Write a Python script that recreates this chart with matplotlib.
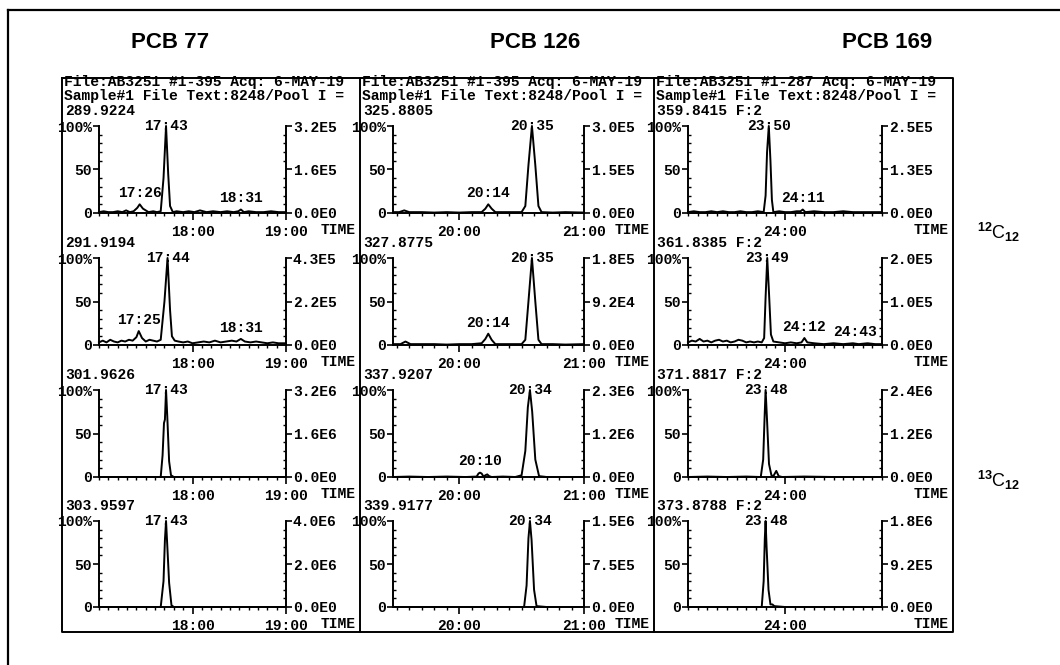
import matplotlib.pyplot as plt
from matplotlib.patches import Rectangle
from matplotlib.ticker import MultipleLocator

plt.rcParams['font.family'] = ['Liberation Mono', 'DejaVu Sans Mono']
plt.rcParams['font.weight'] = 'bold'
plt.rcParams['font.size'] = 10.5
plt.rcParams['mathtext.fontset'] = 'custom'
plt.rcParams['mathtext.rm'] = 'Liberation Sans'

W, H = 1060, 665

# ================================
# data
# ================================
compounds = ["PCB 77", "PCB 126", "PCB 169"]
file_lines = ["File:AB3251 #1-395 Acq: 6-MAY-19",
              "File:AB3251 #1-395 Acq: 6-MAY-19",
              "File:AB3251 #1-287 Acq: 6-MAY-19"]
sample_line = "Sample#1 File Text:8248/Pool I ="
mass_labels = [["289.9224", "291.9194", "301.9626", "303.9597"],
               ["325.8805", "327.8775", "337.9207", "339.9177"],
               ["359.8415 F:2", "361.8385 F:2", "371.8817 F:2", "373.8788 F:2"]]
full_scale = [["3.2E5", "4.3E5", "3.2E6", "4.0E6"],
              ["3.0E5", "1.8E5", "2.3E6", "1.5E6"],
              ["2.5E5", "2.0E5", "2.4E6", "1.8E6"]]
half_scale = [["1.6E5", "2.2E5", "1.6E6", "2.0E6"],
              ["1.5E5", "9.2E4", "1.2E6", "7.5E5"],
              ["1.3E5", "1.0E5", "1.2E6", "9.2E5"]]
time_windows = [(17.0, 19.0), (19.47, 21.0), (23.0, 25.0)]
time_ticks = [[18.0, 19.0], [20.0, 21.0], [24.0]]
time_tick_labels = [["18:00", "19:00"], ["20:00", "21:00"], ["24:00"]]
isotope_labels = [r"$^{12}$C$_{12}$", r"$^{13}$C$_{12}$"]

# traces: (time [min], intensity [%])
pcb77_289 = [(17.00, 1), (17.05, 2), (17.10, 1), (17.15, 1), (17.20, 2), (17.25, 1), (17.29, 3),
             (17.33, 1), (17.37, 2), (17.41, 6), (17.435, 10), (17.47, 5), (17.53, 1), (17.58, 2),
             (17.62, 1), (17.66, 2), (17.69, 40), (17.717, 100), (17.74, 45), (17.76, 8), (17.79, 1),
             (17.83, 2), (17.90, 1), (17.96, 2), (18.02, 1), (18.08, 3), (18.15, 1), (18.22, 2),
             (18.30, 1), (18.37, 2), (18.44, 1), (18.49, 2), (18.517, 4), (18.55, 1), (18.60, 2),
             (18.68, 1), (18.76, 1), (18.84, 2), (18.92, 1), (19.00, 1)]
pcb77_291 = [(17.00, 3), (17.04, 5), (17.08, 3), (17.12, 6), (17.16, 4), (17.20, 3), (17.24, 5),
             (17.28, 4), (17.32, 6), (17.36, 5), (17.40, 9), (17.425, 16), (17.46, 8), (17.50, 4),
             (17.54, 6), (17.58, 5), (17.62, 4), (17.66, 6), (17.70, 50), (17.733, 100), (17.76, 40),
             (17.78, 10), (17.81, 5), (17.85, 4), (17.90, 3), (17.95, 4), (18.00, 2), (18.06, 3),
             (18.12, 4), (18.18, 3), (18.24, 5), (18.30, 3), (18.36, 4), (18.42, 5), (18.47, 4),
             (18.517, 7), (18.56, 4), (18.62, 3), (18.68, 4), (18.74, 3), (18.80, 2), (18.86, 3),
             (18.92, 2), (19.00, 2)]
pcb77_301 = [(17.00, 0), (17.30, 0), (17.55, 0), (17.66, 0), (17.68, 25), (17.695, 62), (17.705, 66),
             (17.717, 100), (17.73, 70), (17.75, 18), (17.77, 2), (17.80, 0), (18.10, 0), (18.50, 0),
             (19.00, 0)]
pcb77_303 = [(17.00, 0), (17.40, 0), (17.66, 0), (17.69, 30), (17.705, 78), (17.717, 100), (17.73, 72),
             (17.75, 28), (17.775, 2), (17.80, 0), (18.30, 0), (19.00, 0)]

pcb126_325 = [(19.47, 1), (19.52, 1), (19.56, 3), (19.60, 1), (19.70, 1), (19.80, 0.5), (19.90, 1),
              (20.00, 0.5), (20.10, 1), (20.18, 1), (20.21, 5), (20.233, 10), (20.26, 5), (20.29, 1),
              (20.40, 1), (20.50, 1), (20.53, 8), (20.555, 55), (20.583, 100), (20.61, 55), (20.635, 8),
              (20.66, 1), (20.75, 0.5), (20.85, 1), (21.00, 0.5)]
pcb126_327 = [(19.47, 1), (19.53, 1), (19.57, 4), (19.61, 1), (19.70, 1), (19.80, 1), (19.90, 0.5),
              (20.00, 1), (20.10, 1), (20.18, 2), (20.21, 7), (20.233, 13), (20.26, 6), (20.29, 1),
              (20.40, 1), (20.50, 1), (20.53, 6), (20.555, 50), (20.583, 100), (20.61, 50), (20.635, 6),
              (20.66, 1), (20.75, 1), (20.85, 0.5), (21.00, 1)]
pcb126_337 = [(19.47, 0), (19.60, 0.5), (19.75, 0), (19.90, 0.5), (20.05, 0), (20.14, 0.5), (20.155, 4),
              (20.167, 5), (20.18, 4), (20.195, 0.5), (20.21, 2), (20.225, 3), (20.24, 1), (20.26, 0),
              (20.35, 0.5), (20.45, 0), (20.50, 2), (20.53, 30), (20.55, 80), (20.567, 100),
              (20.585, 75), (20.61, 20), (20.64, 1), (20.70, 0), (20.85, 0), (21.00, 0)]
pcb126_339 = [(19.47, 0), (19.80, 0), (20.10, 0), (20.40, 0), (20.52, 0), (20.54, 25), (20.555, 80),
              (20.567, 100), (20.58, 78), (20.60, 20), (20.62, 1), (20.70, 0), (21.00, 0)]

pcb169_359 = [(23.00, 1), (23.06, 2), (23.12, 1), (23.18, 1), (23.24, 2), (23.30, 1), (23.36, 2),
              (23.42, 1), (23.48, 1), (23.54, 2), (23.60, 1), (23.66, 1), (23.72, 2), (23.78, 1),
              (23.80, 20), (23.815, 70), (23.833, 100), (23.85, 60), (23.865, 15), (23.88, 1),
              (23.94, 2), (24.00, 1), (24.06, 1), (24.12, 2), (24.16, 2), (24.183, 4), (24.21, 1),
              (24.30, 2), (24.40, 1), (24.50, 1), (24.60, 2), (24.70, 1), (24.80, 1), (24.90, 1),
              (25.00, 1)]
pcb169_361 = [(23.00, 3), (23.04, 5), (23.08, 4), (23.12, 7), (23.16, 4), (23.20, 5), (23.24, 3),
              (23.28, 5), (23.32, 6), (23.36, 4), (23.40, 5), (23.44, 3), (23.48, 4), (23.52, 6),
              (23.56, 5), (23.60, 3), (23.64, 4), (23.68, 3), (23.72, 4), (23.76, 3), (23.785, 8),
              (23.80, 55), (23.817, 100), (23.835, 60), (23.855, 12), (23.88, 4), (23.94, 3),
              (24.00, 2), (24.06, 3), (24.12, 2), (24.17, 3), (24.20, 8), (24.23, 3), (24.30, 2),
              (24.40, 1), (24.50, 2), (24.60, 1), (24.70, 2), (24.76, 1), (24.85, 2), (24.93, 1),
              (25.00, 1)]
pcb169_371 = [(23.00, 0), (23.20, 0.5), (23.40, 0), (23.60, 0.5), (23.75, 0), (23.775, 20), (23.79, 70),
              (23.80, 100), (23.815, 65), (23.835, 15), (23.86, 2), (23.88, 1), (23.91, 7),
              (23.935, 1), (23.97, 0), (24.20, 0.5), (24.50, 0), (24.80, 0), (25.00, 0)]
pcb169_373 = [(23.00, 0), (23.30, 0), (23.60, 0), (23.76, 0), (23.78, 30), (23.792, 80), (23.80, 100),
              (23.81, 70), (23.83, 20), (23.85, 3), (23.87, 3), (23.89, 1), (24.00, 0), (24.40, 0),
              (25.00, 0)]

# labelled peaks: (time, height, label)
peaks_77 = [[(17.717, 100, "17:43"), (17.435, 10, "17:26"), (18.517, 4, "18:31")],
            [(17.733, 100, "17:44"), (17.425, 16, "17:25"), (18.517, 7, "18:31")],
            [(17.717, 100, "17:43")],
            [(17.717, 100, "17:43")]]
peaks_126 = [[(20.583, 100, "20:35"), (20.233, 10, "20:14")],
             [(20.583, 100, "20:35"), (20.233, 13, "20:14")],
             [(20.567, 100, "20:34"), (20.167, 5, "20:10")],
             [(20.567, 100, "20:34")]]
peaks_169 = [[(23.833, 100, "23:50"), (24.183, 4, "24:11")],
             [(23.817, 100, "23:49"), (24.20, 8, "24:12"), (24.717, 2, "24:43")],
             [(23.80, 100, "23:48")],
             [(23.80, 100, "23:48")]]

traces = [[pcb77_289, pcb77_291, pcb77_301, pcb77_303],
          [pcb126_325, pcb126_327, pcb126_337, pcb126_339],
          [pcb169_359, pcb169_361, pcb169_371, pcb169_373]]
peaks = [peaks_77, peaks_126, peaks_169]

# ================================
# layout (pixels)
# ================================
col_edges = [62, 360, 654, 953]
axis_x = [(99, 286), (393, 584), (688, 882)]
row_top = [126, 258, 390, 521]
row_zero = [213, 345, 477, 607]
box_top, box_bottom = 78, 632
title_x = [170, 535, 887]
lw = 1.4

fig = plt.figure(figsize=(W / 100, H / 100), dpi=100)
fig.patch.set_facecolor('white')
ax0 = fig.add_axes([0, 0, 1, 1])
ax0.set_xlim(0, W)
ax0.set_ylim(H, 0)
ax0.axis('off')

# outer frame (top and left edge of the scanned page)
ax0.plot([8, W], [10, 10], color='k', lw=1.6)
ax0.plot([8, 8], [10, H], color='k', lw=1.6)
# inner box and column separators
ax0.plot([col_edges[0], col_edges[-1], col_edges[-1], col_edges[0], col_edges[0]],
         [box_top, box_top, box_bottom, box_bottom, box_top], color='k', lw=lw)
for xe in col_edges[1:-1]:
    ax0.plot([xe, xe], [box_top, box_bottom], color='k', lw=lw)

for c in range(3):
    ax0.text(title_x[c], 42, compounds[c], ha='center', va='center', fontsize=16,
             family='Liberation Sans', fontweight='bold')
    clip = Rectangle((col_edges[c], 0), col_edges[c + 1] - col_edges[c] - 2, H,
                     transform=ax0.transData)
    for yy, s in [(82, file_lines[c]), (96, sample_line)]:
        t = ax0.text(col_edges[c] + 2, yy, s, ha='left', va='center')
        t.set_clip_path(clip)

    for r in range(4):
        x0, x1 = axis_x[c]
        top, zero = row_top[r], row_zero[r]
        ax0.text(col_edges[c] + 3, top - 15, mass_labels[c][r], ha='left', va='center')
        ax0.text(col_edges[c + 1] - 4, zero + 17, "TIME", ha='right', va='center')

        ax = fig.add_axes([x0 / W, 1 - zero / H, (x1 - x0) / W, (zero - top) / H])
        ax.patch.set_alpha(0)
        tt, ii = zip(*traces[c][r])
        ax.plot(tt, ii, color='k', lw=lw, clip_on=False)
        ax.set_xlim(*time_windows[c])
        ax.set_ylim(0, 100)
        for side in ['top', 'right']:
            ax.spines[side].set_visible(False)
        for side in ['left', 'bottom']:
            ax.spines[side].set_linewidth(lw)
        ax.set_yticks([0, 50, 100], ['0', '50', '100%'])
        ax.yaxis.set_minor_locator(MultipleLocator(10))
        ax.tick_params(axis='y', which='major', direction='out', length=4, width=1.2, pad=1)
        ax.tick_params(axis='y', which='minor', direction='in', length=2.5, width=1)
        ax.set_xticks(time_ticks[c], time_tick_labels[c])
        ax.xaxis.set_minor_locator(MultipleLocator(0.1))
        ax.tick_params(axis='x', which='major', direction='out', length=5, width=1.2, pad=4)
        ax.tick_params(axis='x', which='minor', direction='out', length=2, width=1)

        sec = ax.secondary_yaxis('right')
        sec.spines['right'].set_linewidth(lw)
        sec.set_yticks([0, 50, 100], ['0.0E0', half_scale[c][r], full_scale[c][r]])
        sec.yaxis.set_minor_locator(MultipleLocator(10))
        sec.tick_params(which='major', direction='out', length=4, width=1.2, pad=1)
        sec.tick_params(which='minor', direction='in', length=2.5, width=1)

        for pt, ph, lab in peaks[c][r]:
            if ph >= 100:
                ax.annotate(lab, (pt, ph), xytext=(0, 0), textcoords='offset points',
                            ha='center', va='center', annotation_clip=False)
            else:
                ax.annotate(lab, (pt, ph), xytext=(0, 3), textcoords='offset points',
                            ha='center', va='bottom', annotation_clip=False)

# isotope row labels
for k, yy in enumerate([232, 480]):
    ax0.text(977, yy, isotope_labels[k], ha='left', va='center', fontsize=13,
             family='Liberation Sans', fontweight='normal')

fig.savefig('out.png', dpi=100)
